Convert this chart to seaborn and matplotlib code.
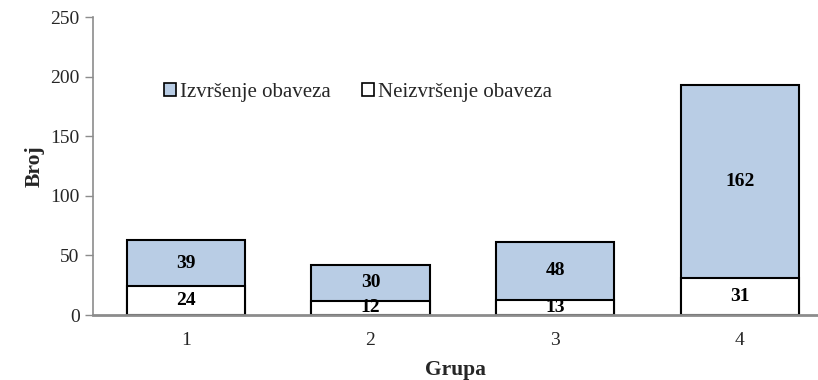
import numpy as np
import pandas as pd
import matplotlib
matplotlib.use("Agg")
import matplotlib.pyplot as plt
import seaborn as sns
from matplotlib.patches import Patch

# Data
groups = ["1", "2", "3", "4"]
neizvrsenje = [24, 12, 13, 31]   # lower segment
izvrsenje = [39, 30, 48, 162]    # upper segment
series_names = ["Izvršenje obaveza", "Neizvršenje obaveza"]
y_ticks = [0, 50, 100, 150, 200, 250]

blue = "#B9CDE5"
grey = "#8C8C8C"

sns.set_theme(style="white")
plt.rcParams["font.family"] = ["Liberation Serif", "DejaVu Serif"]

df = pd.DataFrame({
    "Grupa": groups,
    "low": neizvrsenje,
    "high": izvrsenje,
})
df["total"] = df["low"] + df["high"]

fig = plt.figure(figsize=(8.18, 3.80), dpi=100)
ax = fig.add_axes([0.1143, 0.171, 0.8857, 0.784])

bar_w = 0.64
sns.barplot(data=df, x="Grupa", y="total", color=blue, width=bar_w,
            edgecolor="black", linewidth=1.5, saturation=1, ax=ax)
sns.barplot(data=df, x="Grupa", y="low", color="white", width=bar_w,
            edgecolor="black", linewidth=1.5, saturation=1, ax=ax)

# value labels centred in each segment
for i, (lo, hi) in enumerate(zip(df["low"], df["high"])):
    ax.text(i, lo / 2, str(lo), ha="center", va="center",
            fontsize=14, fontweight="bold", color="black")
    ax.text(i, lo + hi / 2, str(hi), ha="center", va="center",
            fontsize=14, fontweight="bold", color="black")

ax.set_ylim(0, 250)
ax.set_xlim(-0.5, 3.423)
ax.set_yticks(y_ticks)
ax.set_yticklabels([str(t) for t in y_ticks], fontsize=14)
ax.tick_params(axis="x", labelsize=14, length=0, pad=12)
ax.tick_params(axis="y", length=6, width=1, color=grey, left=True,
               direction="out", pad=4)

ax.set_xlabel("Grupa", fontsize=15.5, fontweight="bold", labelpad=8)
ax.set_ylabel("Broj", fontsize=15.5, fontweight="bold", labelpad=4)

for side in ["top", "right"]:
    ax.spines[side].set_visible(False)
ax.spines["left"].set_color(grey)
ax.spines["left"].set_linewidth(1.2)
ax.spines["bottom"].set_color(grey)
ax.spines["bottom"].set_linewidth(2)

handles = [
    Patch(facecolor=blue, edgecolor="black", linewidth=1.2),
    Patch(facecolor="white", edgecolor="black", linewidth=1.2),
]
ax.legend(handles, series_names, loc="center left",
          bbox_to_anchor=(0.201, 0.757), bbox_transform=fig.transFigure,
          ncol=2, frameon=False, fontsize=15, handlelength=0.55,
          handleheight=0.55, handletextpad=0.2, columnspacing=1.5,
          borderaxespad=0, borderpad=0)

fig.savefig("out.png", dpi=100)
